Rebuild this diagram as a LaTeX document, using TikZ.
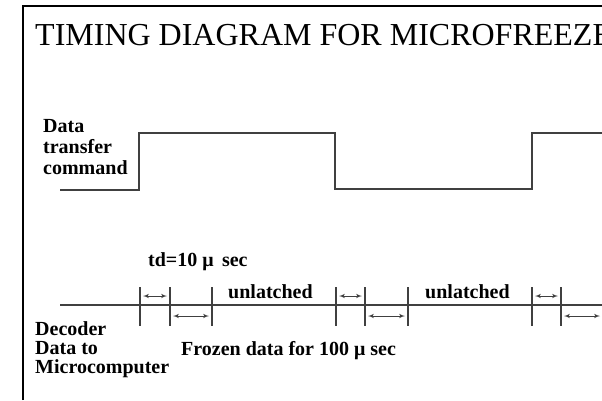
\documentclass[tikz,border=0pt]{standalone}
\usepackage{fontspec}
\setmainfont{Liberation Serif}
\usepackage{tikz}
\usetikzlibrary{arrows,positioning}
\tikzstyle{heading} = [font=\fontsize{32}{32}\selectfont, anchor=base west, inner sep=0pt]
\tikzstyle{caption} = [font=\bfseries\fontsize{20}{21}\selectfont, align=left,
    anchor=base west, inner sep=0pt]
\tikzstyle{signal} = [draw=black!75, line width=1.6pt]
\tikzstyle{marker} = [draw=black!75, line width=1.5pt]
\tikzstyle{gap} = [draw=black!75, line width=1pt, latex'-latex']

\begin{document}
\begin{tikzpicture}[x=1pt, y=-1pt]
    \useasboundingbox (0,0) rectangle (602,400);
    \clip (0,0) rectangle (602,400);
    % Frame and heading
    \draw [line width=2pt] (23,400) -- (23,6) -- (602,6);
    \node [heading] (title) at (35,45) {TIMING DIAGRAM FOR MICROFREEZE};
    % Data transfer command
    \node [caption] (cmd) at (43,174) {Data\\transfer\\command};
    \path [signal] (60,190) -- (139,190) -- (139,133) -- (335,133) -- (335,189)
        -- (532,189) -- (532,133) -- (610,133);
    % Decoder output
    \node [caption, font=\bfseries\fontsize{20}{19}\selectfont] (decoder) at (35,373)
        {Decoder\\Data to\\Microcomputer};
    \path [signal] (60,305) -- (610,305);
    \foreach \x in {140,170,212,336,365,408,532,561,603}
        \path [marker] (\x,287) -- (\x,326);
    \foreach \a/\b in {140/170,336/365,532/561}
        \path [gap] (\a+3,296) -- (\b-3,296);
    \foreach \a/\b in {170/212,365/408,561/603}
        \path [gap] (\a+3,316) -- (\b-3,316);
    \node [caption] (td) at (148,266) {td=10 μ\, sec};
    \node [caption] (free1) at (228,298) {unlatched};
    \node [caption] (free2) at (425,298) {unlatched};
    \node [caption] (frozen) at (181,355) {Frozen data for 100 μ sec};
\end{tikzpicture}
\end{document}
